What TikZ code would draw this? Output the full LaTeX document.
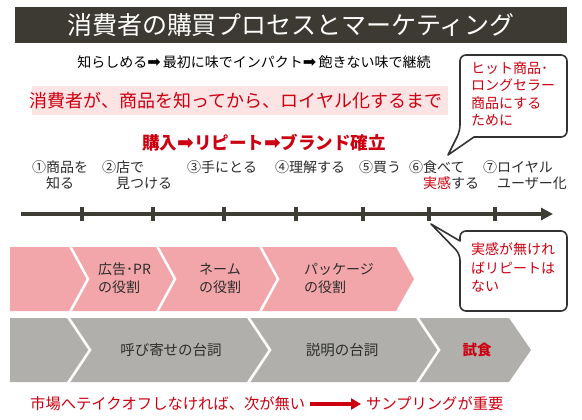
\documentclass[tikz,border=0pt]{standalone}
\usepackage{fontspec}
\setmainfont{Noto Sans CJK JP}
\newfontfamily\sym{DejaVu Sans}
\usetikzlibrary{arrows.meta}
\definecolor{titlebg}{RGB}{61,58,51}
\definecolor{jred}{RGB}{204,0,17}
\definecolor{bandpink}{RGB}{253,228,228}
\definecolor{chevpink}{RGB}{242,166,169}
\definecolor{chevgray}{RGB}{176,175,171}
\definecolor{axiscol}{RGB}{61,61,53}
\definecolor{ink}{RGB}{45,45,45}
\definecolor{bubble}{RGB}{51,51,51}
\newcommand{\harrow}[1]{{\sym\fontsize{#1}{#1}\selectfont ➡}}
\begin{document}
\begin{tikzpicture}[x=1pt,y=-1pt,
  titletxt/.style={inner sep=0pt,text=white,font=\fontsize{25}{30}\selectfont},
  subtxt/.style={inner sep=0pt,text=black,font=\fontsize{14}{16}\selectfont},
  bandtxt/.style={inner sep=0pt,text=jred,font=\fontsize{18}{20}\selectfont},
  buytxt/.style={inner sep=0pt,text=jred,font=\fontsize{17.5}{20}\selectfont\bfseries},
  steplbl/.style={inner sep=0pt,align=left,anchor=west,text=ink,font=\fontsize{14}{16}\selectfont},
  axisline/.style={draw=axiscol,line width=4pt,-{Triangle[length=12pt,width=12pt]}},
  tickmark/.style={draw=axiscol,line width=4pt},
  bubbleline/.style={draw=bubble,fill=white,line width=1.6pt,line join=round},
  bubbletxt/.style={inner sep=0pt,align=left,anchor=west,text=jred,font=\fontsize{14}{17.5}\selectfont},
  chevsep/.style={draw=white,line width=2.5pt},
  chevtxt/.style={inner sep=0pt,align=left,anchor=west,text=ink,font=\fontsize{14}{18}\selectfont},
  graytxt/.style={inner sep=0pt,text=ink,font=\fontsize{14.5}{17}\selectfont},
  bottxt/.style={inner sep=0pt,anchor=west,text=jred,font=\fontsize{15.3}{18}\selectfont},
  redarrow/.style={draw=jred,line width=4pt,-{Triangle[length=10pt,width=11pt]}}
]
\useasboundingbox (0,0) rectangle (582,420);
\fill[white] (0,0) rectangle (582,420);

% title bar
\fill[titlebg] (15,7) rectangle (567,43);
\node[titletxt] (title) at (291,25) {消費者の購買プロセスとマーケティング};

% subtitle
\node[subtxt] (sub) at (254,62) {知らしめる\harrow{16}\,最初に味でインパクト\harrow{16}\,飽きない味で継続};

% pink band
\fill[bandpink] (32,86) rectangle (448,115);
\node[bandtxt] (band) at (236,100.5) {消費者が、商品を知ってから、ロイヤル化するまで};

% purchase line
\node[buytxt] (buy) at (264,143) {購入\harrow{20}リピート\harrow{20}ブランド確立};

% callout 1
\draw[bubbleline,rounded corners=6pt] (474,137) -- (567,137) -- (567,55) -- (460,55) -- (460,131) [sharp corners] -- (448,155) -- cycle;
\node[bubbletxt] (c1) at (471,94) {ヒット商品･\\ロングセラー\\商品にする\\ために};

% step labels
\node[steplbl] (s1) at (32,175) {①商品を\\　知る};
\node[steplbl] (s2) at (102,175) {②店で\\　見つける};
\node[steplbl] (s3) at (187,167) {③手にとる};
\node[steplbl] (s4) at (275,167) {④理解する};
\node[steplbl] (s5) at (359,167) {⑤買う};
\node[steplbl] (s6) at (409,175) {⑥食べて\\　{\color{jred}実感}する};
\node[steplbl] (s7) at (483,175) {⑦ロイヤル\\　ユーザー化};

% timeline
\coordinate (t0) at (21,214);
\coordinate (t1) at (553,214);
\draw[axisline] (t0) -- (t1);
\foreach \tx in {82,153,224,296,363,429,495}
  \draw[tickmark] (\tx,207) -- (\tx,221);

% callout 2
\draw[bubbleline,rounded corners=6pt] (460,241) -- (460,231) -- (567,231) -- (567,311) -- (460,311) -- (460,254) [sharp corners] -- (431,224) -- cycle;
\node[bubbletxt,font=\fontsize{14}{18.5}\selectfont] (c2) at (471,267.5) {実感が無けれ\\ばリピートは\\ない};

% pink chevrons
\fill[chevpink] (10,247) -- (396,247) -- (414,279) -- (396,311) -- (10,311) -- cycle;
\foreach \sx in {70,157,260}
  \draw[chevsep] (\sx,246) -- (\sx+18,279) -- (\sx,312);
\node[chevtxt] (p1) at (98,278) {広告･PR\\の役割};
\node[chevtxt] (p2) at (199,278) {ネーム\\の役割};
\node[chevtxt] (p3) at (304,278) {パッケージ\\の役割};

% gray chevrons
\fill[chevgray] (10,318) -- (509,318) -- (531,350) -- (509,382) -- (10,382) -- cycle;
\foreach \sx in {68,248,417}
  \draw[chevsep] (\sx,317) -- (\sx+22,350) -- (\sx,383);
\node[graytxt] (g1) at (171,350) {呼び寄せの台詞};
\node[graytxt] (g2) at (342,350) {説明の台詞};
\node[graytxt,text=jred,font=\fontsize{14.5}{17}\selectfont\bfseries] (g3) at (477,350) {試食};

% bottom line
\node[bottxt] (bl) at (30,404) {市場へテイクオフしなければ、次が無い};
\node[bottxt] (br) at (366,404) {サンプリングが重要};
\draw[redarrow] ([xshift=5pt]bl.east) -- ([xshift=-5pt]br.west);
\end{tikzpicture}
\end{document}
